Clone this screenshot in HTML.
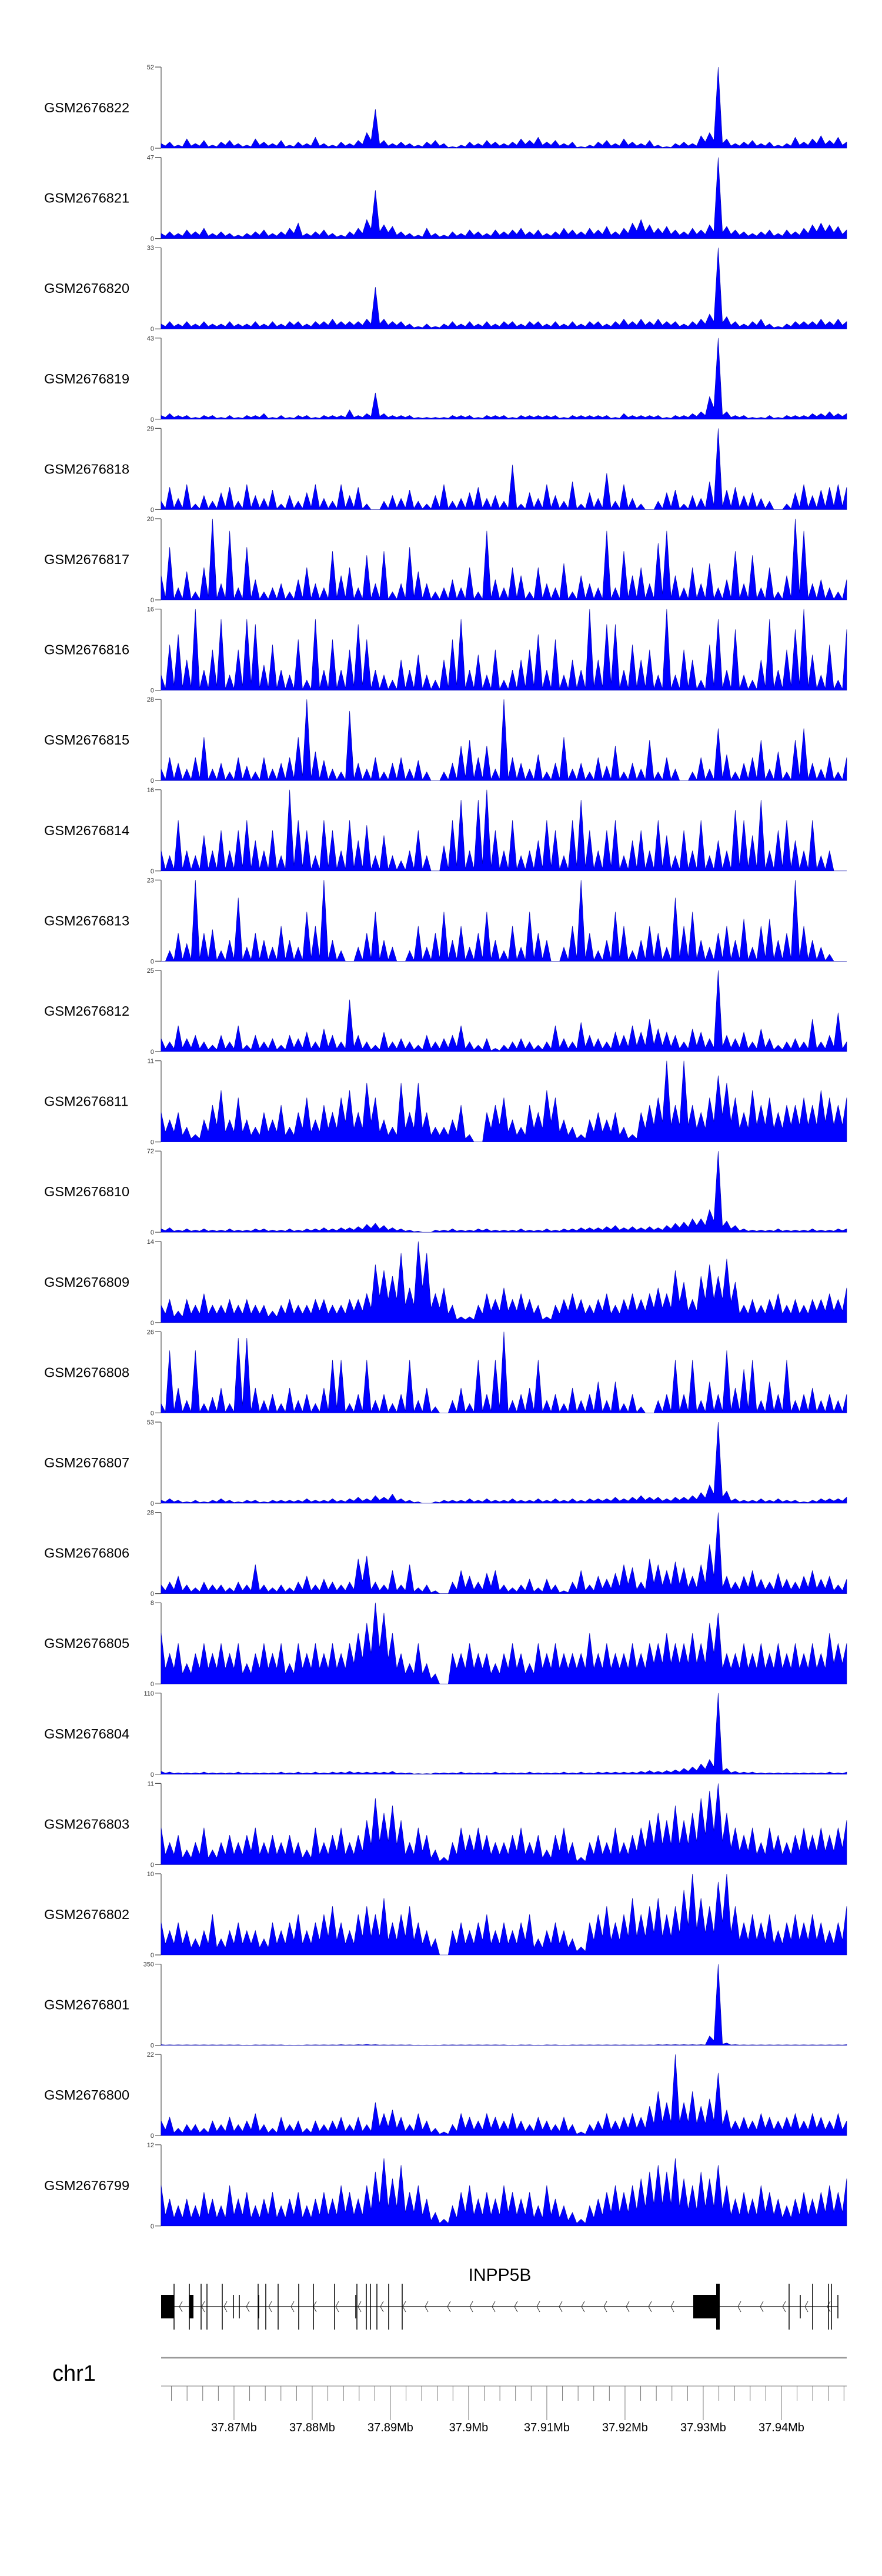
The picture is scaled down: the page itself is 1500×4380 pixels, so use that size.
<!DOCTYPE html>
<html><head><meta charset="utf-8">
<style>
html,body{margin:0;padding:0;background:#fff;}
svg{display:block;}
text{font-family:"Liberation Sans",sans-serif;}
</style></head>
<body>
<svg id="chart" width="1500" height="4380" viewBox="0 0 1500 4380" xmlns="http://www.w3.org/2000/svg">
<g id="tracks"></g>
<g id="gene"></g>
<g id="axis"></g>
</svg>
<script>
const sampleNames = ["GSM2676822","GSM2676821","GSM2676820","GSM2676819","GSM2676818","GSM2676817","GSM2676816","GSM2676815","GSM2676814","GSM2676813","GSM2676812","GSM2676811","GSM2676810","GSM2676809","GSM2676808","GSM2676807","GSM2676806","GSM2676805","GSM2676804","GSM2676803","GSM2676802","GSM2676801","GSM2676800","GSM2676799"];
const trackMax = [52,47,33,43,29,20,16,28,16,23,25,11,72,14,26,53,28,8,110,11,10,350,22,12];
const s0822 = [3,4,2,6,3,5,2,4,5,3,2,6,4,3,5,2,4,3,7,3,2,4,3,5,10,25,5,3,4,3,2,4,5,3,1,2,4,3,5,4,3,4,6,5,7,4,5,3,4,1,2,4,5,3,6,4,3,5,2,1,3,4,3,8,10,52,6,3,4,5,3,4,2,3,7,4,6,8,5,7,4];
const s0821 = [3,4,3,5,4,6,3,4,3,2,3,4,5,3,4,6,9,3,4,5,3,2,4,6,11,28,8,7,4,3,2,6,3,2,4,3,5,4,3,5,4,5,6,4,5,3,4,6,5,4,6,5,7,4,6,9,11,8,6,7,5,4,6,5,8,47,7,5,4,3,4,5,3,5,4,6,8,9,8,7,5];
const s0820 = [2,3,2,3,2,3,2,2,3,2,2,3,2,3,2,3,3,2,3,3,4,3,3,3,4,17,4,3,3,2,1,2,1,2,3,2,3,2,3,2,3,3,2,3,3,2,3,2,3,2,3,3,2,3,4,3,4,3,4,3,3,2,3,4,6,33,5,3,2,3,4,2,1,2,3,3,3,4,3,4,3];
const s0819 = [2,3,2,2,1,2,2,1,2,1,2,2,3,1,2,1,2,2,1,2,2,2,5,2,3,14,3,2,2,2,1,1,1,1,2,2,2,1,2,2,2,1,2,2,2,2,2,1,2,2,2,2,2,1,3,2,2,2,2,1,2,2,3,4,12,43,4,2,2,1,1,2,1,2,2,2,3,3,4,3,3];
const s0818 = [3,8,4,9,2,5,3,6,8,3,9,5,4,7,2,5,3,6,9,4,3,9,5,8,2,0,3,5,4,7,3,2,5,9,3,4,6,8,4,5,3,16,2,6,4,9,5,3,10,2,6,4,13,3,9,4,2,0,3,6,7,2,5,4,10,29,7,8,5,6,4,3,0,2,6,9,5,7,8,9,8];
const s0817 = [6,13,3,7,2,8,20,4,17,3,13,5,2,3,4,2,5,8,4,3,12,6,8,3,11,4,12,2,4,13,7,4,2,3,5,3,8,2,17,5,3,8,6,2,8,4,3,9,2,6,4,3,17,3,12,6,8,4,14,17,6,3,8,4,9,3,5,12,4,11,3,8,2,6,20,17,4,5,3,2,5];
const s0816 = [3,9,11,6,16,4,8,14,3,8,14,13,5,9,4,3,10,2,14,4,10,4,8,13,10,4,3,2,6,4,7,3,2,6,10,14,4,7,3,8,2,4,6,8,11,4,10,3,6,4,16,6,13,13,4,9,6,8,3,16,3,8,6,2,9,14,4,12,3,2,6,14,4,8,12,16,7,3,9,2,12];
const s0815 = [4,8,6,4,8,15,4,6,3,8,5,3,8,4,6,8,15,28,10,7,4,3,24,6,4,8,3,6,8,4,7,3,0,3,6,12,14,8,12,4,28,8,6,4,9,3,6,15,4,6,3,8,5,12,3,6,4,14,3,8,4,0,3,8,4,18,9,3,6,8,14,4,10,3,14,18,6,4,8,3,8];
const s0814 = [4,3,10,4,3,7,4,8,4,8,10,6,4,8,3,16,10,8,3,10,8,4,10,6,9,3,7,3,2,4,8,3,0,5,10,14,4,14,16,8,4,10,3,4,6,10,8,3,10,14,8,4,8,10,3,6,8,4,10,7,3,8,4,10,3,6,4,12,10,7,14,4,8,10,6,4,10,3,4,0,0];
const s0813 = [0,3,8,5,23,8,9,3,6,18,4,8,6,4,10,6,4,14,10,23,6,3,0,4,8,14,6,4,0,3,10,4,8,14,6,10,4,8,14,6,3,10,4,14,8,6,0,4,10,23,8,3,6,14,10,3,6,10,8,4,18,10,14,6,4,8,10,6,12,4,10,12,6,8,23,10,6,4,2,0,0];
const s0812 = [4,3,8,4,5,3,2,5,3,8,2,5,3,4,2,5,4,6,3,7,5,3,16,5,3,2,6,3,4,3,2,5,3,4,5,8,3,2,4,1,2,3,4,3,2,3,8,4,3,9,5,4,3,6,5,8,6,10,7,6,5,3,7,6,4,25,5,4,6,3,7,4,2,3,4,3,10,3,5,12,3];
const s0811 = [4,3,4,2,1,3,5,7,3,6,3,2,4,3,5,2,4,6,3,5,4,6,7,4,8,6,3,2,8,4,8,4,2,2,3,5,1,0,4,5,6,3,2,5,4,7,6,3,2,1,3,4,3,4,2,1,4,5,6,11,5,11,5,4,6,9,8,6,4,7,5,6,4,5,5,6,5,7,6,5,6];
const s0810 = [3,4,2,3,2,3,2,2,3,2,2,3,3,2,2,3,2,3,3,4,3,4,4,5,7,8,6,4,3,2,1,0,2,2,3,2,2,3,3,2,2,2,3,2,2,3,2,3,3,4,4,4,5,6,4,5,4,5,4,6,8,9,12,12,20,72,10,6,3,2,2,2,3,2,2,2,3,2,2,3,3];
const s0809 = [3,4,2,4,3,5,3,3,4,3,4,3,3,2,3,4,3,3,4,4,3,3,4,4,5,10,9,8,12,6,14,12,5,6,3,1,1,3,5,4,6,4,5,4,3,1,3,4,5,4,3,4,5,3,4,5,4,5,6,5,9,7,4,8,10,8,11,7,3,4,3,4,5,3,4,3,4,4,5,4,6];
const s0808 = [3,20,8,4,20,3,5,8,3,24,24,8,4,6,3,8,4,6,3,8,17,17,3,6,17,4,6,3,6,17,4,8,2,0,4,8,3,17,6,17,26,4,6,8,17,4,6,3,8,4,6,10,4,10,3,6,2,0,4,6,17,6,17,4,10,6,20,8,14,17,4,10,6,17,4,6,8,4,6,4,6];
const s0807 = [2,3,2,1,2,1,2,3,2,1,2,2,1,2,2,2,2,3,2,2,3,2,3,4,3,5,4,6,3,2,1,0,1,2,2,2,3,2,3,2,2,3,2,2,3,2,3,2,3,2,3,3,3,4,3,4,5,4,4,3,4,4,5,7,12,53,8,3,2,2,3,2,3,2,2,1,2,3,3,3,4];
const s0806 = [3,4,6,3,2,4,3,3,2,4,3,10,3,2,3,2,4,6,3,5,4,3,4,12,13,4,3,8,3,10,2,3,1,0,4,8,6,4,7,8,3,2,3,5,2,5,3,1,4,8,3,6,5,7,10,9,4,12,10,8,11,9,6,10,17,28,6,4,6,8,5,4,7,5,4,6,8,5,6,3,5];
const s0805 = [5,3,4,2,3,4,3,4,3,4,2,3,4,3,4,2,4,3,4,3,4,3,4,5,6,8,7,5,3,2,4,2,1,0,3,3,4,3,3,2,3,4,3,2,4,3,4,3,3,3,5,3,4,3,3,4,3,4,4,5,4,4,5,4,6,7,3,3,4,3,4,3,4,3,4,3,4,3,5,4,4];
const s0804 = [4,3,2,2,2,3,2,2,2,3,2,2,2,2,3,2,3,2,3,2,3,3,4,3,3,3,3,4,2,2,1,1,2,2,2,3,2,2,2,3,2,2,2,3,2,2,2,3,2,3,2,3,3,3,3,3,4,5,4,5,6,8,10,14,20,110,8,4,3,3,2,2,2,2,2,2,2,2,3,2,3];
const s0803 = [5,3,4,2,3,5,2,3,4,3,4,5,3,4,3,4,3,2,5,3,4,5,3,4,6,9,7,8,6,3,5,4,2,1,3,5,4,5,4,3,3,4,5,3,4,2,4,5,3,1,3,4,3,5,3,4,5,6,7,6,8,6,7,9,10,11,7,5,4,5,3,5,4,3,4,5,4,5,4,5,6];
const s0802 = [4,3,4,3,2,3,5,2,3,4,3,3,2,4,3,4,5,3,4,5,6,4,3,5,6,5,7,4,5,6,4,3,2,0,3,4,3,4,5,3,4,3,4,5,2,3,4,3,2,1,4,5,6,4,5,7,5,6,7,5,6,8,10,7,6,9,10,6,4,5,4,5,3,4,5,4,5,4,3,4,6];
const s0801 = [3,2,2,2,2,2,2,2,2,2,1,2,2,2,2,1,1,2,2,2,2,3,2,3,4,3,2,2,2,2,1,1,1,2,2,2,2,2,2,2,2,1,2,2,1,2,2,1,2,2,2,2,2,2,2,2,2,2,3,3,3,3,3,3,40,350,10,3,2,2,2,2,2,2,2,2,2,2,2,2,3];
const s0800 = [4,5,2,3,3,2,4,3,5,3,4,6,3,2,5,3,4,2,4,3,4,5,3,5,3,9,6,7,5,3,6,4,2,1,3,6,5,4,6,5,4,6,4,3,5,4,3,5,3,1,3,4,6,4,5,6,5,8,12,9,22,9,12,8,10,17,7,4,5,4,6,5,4,5,6,4,6,5,4,6,4];
const s0799 = [6,4,3,4,3,5,4,3,6,4,5,3,4,5,3,4,5,3,4,5,4,6,5,4,6,8,10,7,9,5,6,4,2,1,3,5,6,4,5,4,6,5,4,5,3,6,4,3,2,1,3,4,5,6,5,6,7,8,9,8,10,7,6,8,7,9,6,4,5,4,6,5,4,3,4,5,4,5,6,5,7];
const seriesList = [s0822,s0821,s0820,s0819,s0818,s0817,s0816,s0815,s0814,s0813,s0812,s0811,s0810,s0809,s0808,s0807,s0806,s0805,s0804,s0803,s0802,s0801,s0800,s0799];
const axisStartBp = 37860680, axisEndBp = 37948350;
const majorTicks = [37870000,37880000,37890000,37900000,37910000,37920000,37930000,37940000];
const majorLabels = ["37.87Mb","37.88Mb","37.89Mb","37.9Mb","37.91Mb","37.92Mb","37.93Mb","37.94Mb"];

const NS = "http://www.w3.org/2000/svg";
const PX0 = 274, PX1 = 1440, TOP0 = 114, PITCH = 153.6, PH = 138;
// rendering style: valley depth between sampled points (spiky tracks dip lower)
const valleyStyle = [0.5,0.5,0.5,0.5,0.15,0.1,0.1,0.1,0.1,0.1,0.3,0.45,0.5,0.5,0.1,0.5,0.35,0.5,0.5,0.45,0.45,0.5,0.4,0.4];
function mk(tag, attrs, parent){const e=document.createElementNS(NS,tag);for(const k in attrs)e.setAttribute(k,attrs[k]);parent.appendChild(e);return e;}
function xIdx(i,n){return PX0 + (PX1-PX0)*i/(n-1);}
function xBp(bp){return PX0 + (bp-axisStartBp)/(axisEndBp-axisStartBp)*(PX1-PX0);}

const tracksG = document.getElementById('tracks');
seriesList.forEach((vals,t)=>{
  const top = TOP0 + t*PITCH, base = top + PH, mx = trackMax[t];
  const yv = v => (base - Math.min(v,mx)/mx*PH).toFixed(1);
  const g = mk('g',{},tracksG);
  
  
  const lab = mk('text',{x:75,y:top+PH/2+8,'font-size':23.5,fill:'#000'},g);
  lab.textContent = sampleNames[t];
  
  
  const ax = mk('path',{d:`M${PX0} ${top}V${base}M${PX0-10} ${top}H${PX0}M${PX0-10} ${base}H${PX0}`,stroke:'#555','stroke-width':1.2,fill:'none'},g);
  
  
  const tmax = mk('text',{x:PX0-12,y:top+4,'font-size':11,'text-anchor':'end',fill:'#333'},g);
  tmax.textContent = String(mx);
  
  
  const tz = mk('text',{x:PX0-12,y:base+4,'font-size':11,'text-anchor':'end',fill:'#333'},g);
  tz.textContent = "0";
  
  
  const k = valleyStyle[t];
  let d = `M${PX0} ${base}`;
  vals.forEach((v,i)=>{
    const x = xIdx(i,vals.length);
    if(i>0){
      const xm = (x + xIdx(i-1,vals.length))/2;
      d += `L${xm.toFixed(1)} ${yv(Math.min(v,vals[i-1])*k)}`;
    }
    d += `L${x.toFixed(1)} ${yv(v)}`;
  });
  d += `L${PX1} ${base}Z`;
  const area = mk('path',{d:d,fill:'#0000ff',stroke:'#0000aa','stroke-width':0.6},g);
  
  
});

// gene model
const geneG = document.getElementById('gene');
const GY = 3922;
const gname = mk('text',{x:850,y:3878,'font-size':30,'text-anchor':'middle',fill:'#000'},geneG);
gname.textContent = "INPP5B";


const gl = mk('line',{x1:274,y1:GY,x2:1425,y2:GY,stroke:'#333','stroke-width':1.5},geneG);


for(let x=305;x<1420;x+=38){
  const c = mk('path',{d:`M${x+5} ${GY-9}L${x} ${GY}L${x+5} ${GY+9}`,stroke:'#333','stroke-width':1,fill:'none'},geneG);
  
  
}
[[274,296],[322,329],[1179,1222]].forEach(b=>{
  const r = mk('rect',{x:b[0],y:3902,width:b[1]-b[0],height:40,fill:'#000'},geneG);
  
  
});
[296,322,342,352,378,439,452,473,508,533,569,607,623,630,641,661,684,1342,1382,1409,1414].forEach(x=>{
  const l = mk('line',{x1:x,y1:3883,x2:x,y2:3961,stroke:'#000','stroke-width':1.5},geneG);
  
  
});
const thick = mk('rect',{x:1218,y:3883,width:6,height:78,fill:'#000'},geneG);


[397,407,440,605,1361,1425].forEach(x=>{
  const l = mk('line',{x1:x,y1:3902,x2:x,y2:3942,stroke:'#000','stroke-width':1.5},geneG);
  
  
});

// axis
const axG = document.getElementById('axis');
const gray = mk('line',{x1:274,y1:4009,x2:1440,y2:4009,stroke:'#999','stroke-width':2.5},axG);


const chr = mk('text',{x:89,y:4048,'font-size':38,fill:'#000'},axG);
chr.textContent = "chr1";


const axl = mk('line',{x1:274,y1:4057,x2:1440,y2:4057,stroke:'#777','stroke-width':1},axG);


for(let bp=37862000; bp<=axisEndBp; bp+=2000){
  const x = xBp(bp);
  const major = bp % 10000 === 0;
  const tk = mk('line',{x1:x,y1:4057,x2:x,y2:major?4115:4082,stroke:'#777','stroke-width':1},axG);
  
  
}
majorTicks.forEach((bp,i)=>{
  const t = mk('text',{x:xBp(bp),y:4134,'font-size':20,'text-anchor':'middle',fill:'#000'},axG);
  t.textContent = majorLabels[i];
  
  
});
</script>
</body></html>
